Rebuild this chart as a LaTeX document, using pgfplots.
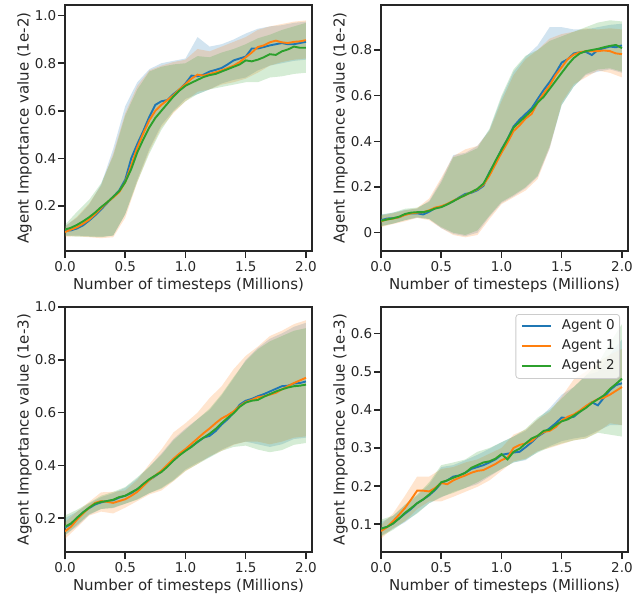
\documentclass[border=0pt]{standalone}
\usepackage{pgfplots}
\pgfplotsset{compat=1.18}
\usepackage{pgfplotstable}
\usepgfplotslibrary{fillbetween}
\usepackage{fontspec}
\setmainfont{DejaVu Sans}
\definecolor{c0}{HTML}{1F77B4}
\definecolor{c1}{HTML}{FF7F0E}
\definecolor{c2}{HTML}{2CA02C}
\definecolor{ink}{HTML}{262626}
\newcommand\tickfont{\fontsize{13.5bp}{16bp}\selectfont}
\newcommand\labfont{\fontsize{15bp}{18bp}\selectfont}

% ---------- Panel 1 ----------
\pgfplotstableread{
x a b c
0.00 0.095 0.090 0.100
0.05 0.097 0.100 0.108
0.10 0.105 0.110 0.120
0.15 0.118 0.125 0.135
0.20 0.138 0.142 0.152
0.25 0.160 0.165 0.172
0.30 0.185 0.190 0.195
0.35 0.212 0.215 0.215
0.40 0.238 0.235 0.238
0.45 0.265 0.258 0.262
0.50 0.310 0.300 0.300
0.55 0.400 0.370 0.355
0.60 0.460 0.445 0.425
0.65 0.515 0.505 0.480
0.70 0.575 0.560 0.530
0.75 0.625 0.600 0.570
0.80 0.640 0.625 0.600
0.85 0.645 0.645 0.630
0.90 0.670 0.665 0.660
0.95 0.690 0.690 0.685
1.00 0.715 0.712 0.705
1.05 0.748 0.735 0.718
1.10 0.745 0.752 0.730
1.15 0.752 0.748 0.742
1.20 0.765 0.755 0.750
1.25 0.772 0.762 0.755
1.30 0.780 0.770 0.765
1.35 0.795 0.780 0.775
1.40 0.812 0.790 0.785
1.45 0.820 0.805 0.795
1.50 0.828 0.825 0.812
1.55 0.862 0.845 0.808
1.60 0.862 0.868 0.815
1.65 0.868 0.875 0.825
1.70 0.875 0.888 0.838
1.75 0.880 0.895 0.835
1.80 0.885 0.888 0.850
1.85 0.880 0.885 0.858
1.90 0.880 0.890 0.870
1.95 0.885 0.892 0.865
2.00 0.890 0.897 0.865
}\meanA
\pgfplotstableread{
x l0 u0 l1 u1 l2 u2
0.0 0.075 0.115 0.070 0.112 0.075 0.120
0.1 0.075 0.150 0.072 0.155 0.070 0.175
0.2 0.072 0.205 0.068 0.210 0.070 0.225
0.3 0.070 0.290 0.064 0.285 0.068 0.295
0.4 0.075 0.440 0.068 0.420 0.075 0.410
0.5 0.165 0.620 0.150 0.590 0.165 0.580
0.6 0.310 0.720 0.300 0.705 0.300 0.690
0.7 0.440 0.775 0.430 0.770 0.420 0.765
0.8 0.540 0.800 0.530 0.790 0.520 0.785
0.9 0.600 0.810 0.590 0.805 0.595 0.795
1.0 0.650 0.820 0.640 0.815 0.640 0.800
1.1 0.670 0.910 0.680 0.860 0.670 0.830
1.2 0.690 0.870 0.690 0.850 0.690 0.825
1.3 0.715 0.880 0.710 0.870 0.700 0.845
1.4 0.730 0.900 0.720 0.890 0.710 0.860
1.5 0.740 0.925 0.735 0.910 0.720 0.880
1.6 0.770 0.945 0.760 0.940 0.720 0.905
1.7 0.790 0.955 0.790 0.955 0.740 0.920
1.8 0.800 0.960 0.805 0.965 0.745 0.940
1.9 0.810 0.970 0.815 0.975 0.755 0.955
2.0 0.815 0.975 0.820 0.980 0.760 0.970
}\bandA

% ---------- Panel 2 ----------
\pgfplotstableread{
x a b c
0.00 0.055 0.050 0.052
0.05 0.062 0.058 0.058
0.10 0.064 0.062 0.063
0.15 0.068 0.068 0.070
0.20 0.080 0.078 0.082
0.25 0.085 0.085 0.088
0.30 0.085 0.088 0.090
0.35 0.080 0.090 0.090
0.40 0.092 0.098 0.096
0.45 0.108 0.110 0.106
0.50 0.114 0.116 0.112
0.55 0.125 0.126 0.124
0.60 0.138 0.140 0.138
0.65 0.155 0.152 0.152
0.70 0.170 0.165 0.165
0.75 0.175 0.178 0.178
0.80 0.186 0.190 0.192
0.85 0.205 0.210 0.215
0.90 0.265 0.250 0.262
0.95 0.310 0.300 0.315
1.00 0.365 0.350 0.362
1.05 0.410 0.395 0.410
1.10 0.465 0.445 0.460
1.15 0.495 0.470 0.485
1.20 0.520 0.500 0.510
1.25 0.545 0.520 0.535
1.30 0.585 0.570 0.570
1.35 0.625 0.610 0.595
1.40 0.660 0.645 0.630
1.45 0.700 0.690 0.665
1.50 0.745 0.725 0.700
1.55 0.760 0.760 0.735
1.60 0.785 0.780 0.765
1.65 0.790 0.790 0.785
1.70 0.792 0.795 0.795
1.75 0.778 0.795 0.800
1.80 0.800 0.795 0.805
1.85 0.808 0.798 0.812
1.90 0.815 0.795 0.818
1.95 0.812 0.785 0.822
2.00 0.820 0.782 0.808
}\meanB
\pgfplotstableread{
x l0 u0 l1 u1 l2 u2
0.0 0.030 0.080 0.025 0.075 0.028 0.078
0.1 0.040 0.088 0.038 0.085 0.040 0.088
0.2 0.055 0.100 0.050 0.098 0.055 0.105
0.3 0.065 0.105 0.065 0.108 0.068 0.110
0.4 0.060 0.140 0.055 0.150 0.060 0.135
0.5 0.020 0.230 0.020 0.240 0.025 0.220
0.6 -0.005 0.340 -0.010 0.335 0.000 0.330
0.7 -0.015 0.350 -0.020 0.365 -0.010 0.345
0.8 0.000 0.380 -0.010 0.380 0.010 0.370
0.9 0.070 0.450 0.060 0.445 0.075 0.455
1.0 0.130 0.590 0.125 0.575 0.135 0.600
1.1 0.160 0.705 0.155 0.690 0.165 0.715
1.2 0.195 0.770 0.185 0.760 0.200 0.775
1.3 0.245 0.820 0.235 0.800 0.250 0.800
1.4 0.370 0.900 0.370 0.850 0.380 0.840
1.5 0.560 0.900 0.570 0.870 0.560 0.860
1.6 0.640 0.890 0.650 0.880 0.640 0.880
1.7 0.690 0.890 0.680 0.895 0.695 0.900
1.8 0.705 0.900 0.710 0.890 0.715 0.920
1.9 0.715 0.910 0.700 0.895 0.720 0.930
2.0 0.700 0.915 0.680 0.890 0.705 0.925
}\bandB

% ---------- Panel 3 ----------
\pgfplotstableread{
x a b c
0.00 0.165 0.150 0.168
0.05 0.178 0.168 0.180
0.10 0.200 0.195 0.202
0.15 0.222 0.218 0.222
0.20 0.238 0.240 0.240
0.25 0.252 0.258 0.255
0.30 0.260 0.265 0.262
0.35 0.265 0.262 0.265
0.40 0.268 0.258 0.270
0.45 0.278 0.265 0.280
0.50 0.285 0.272 0.285
0.55 0.295 0.285 0.298
0.60 0.310 0.300 0.310
0.65 0.325 0.322 0.330
0.70 0.345 0.345 0.348
0.75 0.360 0.362 0.362
0.80 0.378 0.380 0.375
0.85 0.398 0.402 0.395
0.90 0.420 0.425 0.418
0.95 0.440 0.445 0.438
1.00 0.458 0.462 0.455
1.05 0.472 0.482 0.470
1.10 0.488 0.502 0.490
1.15 0.505 0.522 0.505
1.20 0.512 0.540 0.520
1.25 0.530 0.560 0.538
1.30 0.555 0.578 0.560
1.35 0.575 0.590 0.580
1.40 0.600 0.605 0.598
1.45 0.630 0.625 0.622
1.50 0.645 0.640 0.638
1.55 0.652 0.648 0.645
1.60 0.662 0.658 0.648
1.65 0.670 0.662 0.660
1.70 0.680 0.668 0.670
1.75 0.690 0.675 0.680
1.80 0.700 0.688 0.688
1.85 0.702 0.700 0.695
1.90 0.710 0.712 0.700
1.95 0.712 0.722 0.702
2.00 0.718 0.732 0.706
}\meanC
\pgfplotstableread{
x l0 u0 l1 u1 l2 u2
0.0 0.135 0.200 0.122 0.185 0.135 0.210
0.1 0.170 0.225 0.165 0.225 0.175 0.232
0.2 0.212 0.255 0.210 0.262 0.215 0.258
0.3 0.235 0.280 0.225 0.298 0.235 0.285
0.4 0.238 0.295 0.218 0.300 0.240 0.300
0.5 0.255 0.315 0.240 0.305 0.255 0.318
0.6 0.272 0.350 0.265 0.345 0.270 0.355
0.7 0.295 0.395 0.290 0.405 0.295 0.395
0.8 0.315 0.445 0.305 0.460 0.312 0.440
0.9 0.345 0.500 0.340 0.525 0.342 0.495
1.0 0.385 0.540 0.378 0.560 0.380 0.535
1.1 0.410 0.575 0.405 0.600 0.405 0.575
1.2 0.432 0.610 0.435 0.655 0.430 0.615
1.3 0.460 0.665 0.455 0.700 0.455 0.670
1.4 0.480 0.730 0.478 0.765 0.470 0.735
1.5 0.490 0.800 0.490 0.815 0.475 0.795
1.6 0.480 0.845 0.490 0.850 0.460 0.840
1.7 0.470 0.880 0.480 0.890 0.450 0.870
1.8 0.480 0.900 0.490 0.910 0.458 0.890
1.9 0.500 0.925 0.505 0.935 0.478 0.910
2.0 0.505 0.940 0.510 0.950 0.485 0.920
}\bandC

% ---------- Panel 4 ----------
\pgfplotstableread{
x a b c
0.00 0.088 0.082 0.088
0.05 0.093 0.092 0.093
0.10 0.102 0.108 0.102
0.15 0.115 0.125 0.115
0.20 0.128 0.143 0.130
0.25 0.140 0.165 0.142
0.30 0.155 0.188 0.155
0.35 0.165 0.188 0.165
0.40 0.176 0.186 0.178
0.45 0.190 0.195 0.192
0.50 0.208 0.208 0.210
0.55 0.215 0.205 0.215
0.60 0.225 0.215 0.222
0.65 0.228 0.222 0.228
0.70 0.235 0.228 0.235
0.75 0.245 0.235 0.248
0.80 0.250 0.240 0.255
0.85 0.255 0.242 0.262
0.90 0.262 0.250 0.265
0.95 0.270 0.258 0.272
1.00 0.282 0.268 0.284
1.05 0.285 0.275 0.270
1.10 0.288 0.300 0.290
1.15 0.290 0.308 0.298
1.20 0.302 0.312 0.312
1.25 0.315 0.318 0.325
1.30 0.330 0.332 0.332
1.35 0.340 0.342 0.345
1.40 0.352 0.345 0.348
1.45 0.365 0.355 0.360
1.50 0.380 0.372 0.370
1.55 0.378 0.382 0.375
1.60 0.382 0.388 0.385
1.65 0.395 0.398 0.395
1.70 0.408 0.410 0.405
1.75 0.420 0.420 0.418
1.80 0.412 0.428 0.428
1.85 0.432 0.432 0.438
1.90 0.452 0.440 0.455
1.95 0.465 0.450 0.468
2.00 0.470 0.460 0.482
}\meanD
\pgfplotstableread{
x l0 u0 l1 u1 l2 u2
0.0 0.070 0.105 0.062 0.098 0.068 0.112
0.1 0.088 0.122 0.090 0.128 0.085 0.122
0.2 0.105 0.150 0.108 0.175 0.108 0.152
0.3 0.130 0.175 0.140 0.225 0.128 0.178
0.4 0.155 0.205 0.160 0.225 0.155 0.210
0.5 0.170 0.250 0.160 0.245 0.172 0.255
0.6 0.185 0.255 0.172 0.250 0.182 0.262
0.7 0.195 0.268 0.185 0.262 0.195 0.270
0.8 0.205 0.282 0.198 0.270 0.210 0.290
0.9 0.225 0.298 0.215 0.285 0.228 0.300
1.0 0.245 0.315 0.240 0.300 0.245 0.315
1.1 0.262 0.330 0.265 0.335 0.262 0.330
1.2 0.268 0.345 0.272 0.348 0.270 0.350
1.3 0.290 0.375 0.292 0.375 0.288 0.380
1.4 0.305 0.405 0.300 0.395 0.302 0.400
1.5 0.318 0.440 0.310 0.435 0.312 0.430
1.6 0.325 0.460 0.320 0.480 0.320 0.460
1.7 0.330 0.490 0.325 0.500 0.325 0.490
1.8 0.345 0.500 0.342 0.525 0.340 0.520
1.9 0.360 0.545 0.365 0.545 0.335 0.575
2.0 0.360 0.585 0.360 0.560 0.330 0.625
}\bandD

\newcommand\drawpanel[2]{%
  \addplot[name path=L0,draw=none,forget plot] table[x=x,y=l0]{#1};
  \addplot[name path=U0,draw=none,forget plot] table[x=x,y=u0]{#1};
  \addplot[name path=L1,draw=none,forget plot] table[x=x,y=l1]{#1};
  \addplot[name path=U1,draw=none,forget plot] table[x=x,y=u1]{#1};
  \addplot[name path=L2,draw=none,forget plot] table[x=x,y=l2]{#1};
  \addplot[name path=U2,draw=none,forget plot] table[x=x,y=u2]{#1};
  \addplot[fill=c0,fill opacity=0.2,draw=none,forget plot] fill between[of=U0 and L0];
  \addplot[fill=c1,fill opacity=0.2,draw=none,forget plot] fill between[of=U1 and L1];
  \addplot[fill=c2,fill opacity=0.2,draw=none,forget plot] fill between[of=U2 and L2];
  \addplot[c0,line width=1.9bp] table[x=x,y=a]{#2};
  \addplot[c1,line width=1.9bp] table[x=x,y=b]{#2};
  \addplot[c2,line width=1.9bp] table[x=x,y=c]{#2};
}

\pgfplotsset{
  panel/.style={
    scale only axis,
    width=247bp,
    anchor=north west,
    xmin=0, xmax=2.05,
    xtick={0,0.5,1,1.5,2},
    xticklabels={0.0,0.5,1.0,1.5,2.0},
    tick align=outside,
    tick pos=left,
    major tick length=7bp,
    every tick/.style={ink,line width=1.5bp},
    axis line style={ink,line width=1.6bp},
    ticklabel style={font=\tickfont,text=ink},
    yticklabel style={inner xsep=1.5bp},
    label style={font=\labfont,text=ink},
    ylabel shift=-2bp,
    xlabel={Number of timesteps (Millions)},
    clip=true,
  }
}

\begin{document}
\begin{tikzpicture}
% ---- P1 ----
\begin{axis}[panel, at={(65bp,-5bp)}, height=246bp,
  ymin=0.01, ymax=1.045,
  ytick={0.2,0.4,0.6,0.8,1.0}, yticklabels={0.2,0.4,0.6,0.8,1.0},
  ylabel={Agent Importance value (1e-2)}]
\drawpanel{\bandA}{\meanA}
\end{axis}
% ---- P2 ----
\begin{axis}[panel, at={(381bp,-5bp)}, height=246bp,
  ymin=-0.08, ymax=0.997,
  ytick={0,0.2,0.4,0.6,0.8}, yticklabels={0,0.2,0.4,0.6,0.8},
  ylabel={Agent Importance value (1e-2)}]
\drawpanel{\bandB}{\meanB}
\end{axis}
% ---- P3 ----
\begin{axis}[panel, at={(65bp,-307bp)}, height=245bp,
  ymin=0.072, ymax=1.0,
  ytick={0.2,0.4,0.6,0.8,1.0}, yticklabels={0.2,0.4,0.6,0.8,1.0},
  ylabel={Agent Importance value (1e-3)}]
\drawpanel{\bandC}{\meanC}
\end{axis}
% ---- P4 ----
\begin{axis}[panel, at={(381bp,-307bp)}, height=245bp,
  ymin=0.027, ymax=0.67,
  ytick={0.1,0.2,0.3,0.4,0.5,0.6}, yticklabels={0.1,0.2,0.3,0.4,0.5,0.6},
  ylabel={Agent Importance value (1e-3)},
  legend cell align=left,
  legend style={at={(1,1)}, anchor=north east, xshift=-8bp, yshift=-7bp,
    draw=black!20, line width=0.8bp, rounded corners=3bp, fill=white, fill opacity=0.8, text opacity=1,
    font=\tickfont, text=ink, inner xsep=5bp, inner ysep=5.5bp,
    nodes={inner sep=0pt, text height=10bp, text depth=3bp},
    column sep=10bp, row sep=7bp},
  legend image code/.code={\draw[#1] (0bp,0bp) -- (29bp,0bp);}]
\drawpanel{\bandD}{\meanD}
\legend{Agent 0, Agent 1, Agent 2}
\end{axis}
\pgfresetboundingbox
\path[use as bounding box] (0,0) rectangle (644bp,-598bp);
\end{tikzpicture}
\end{document}
